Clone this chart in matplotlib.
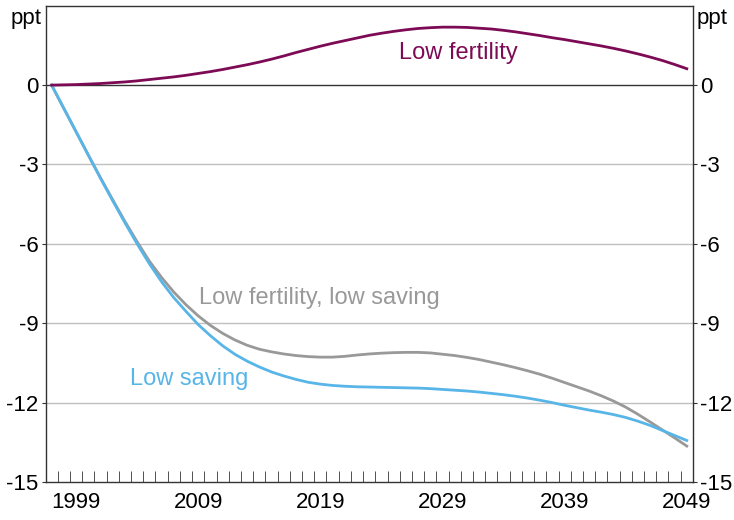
import numpy as np
import matplotlib
matplotlib.use("Agg")
import matplotlib.pyplot as plt
from matplotlib.ticker import FixedLocator

plt.rcParams['font.family'] = ['Liberation Sans', 'DejaVu Sans']

# annual data, plotted at mid-year
years = np.arange(1997, 2050)

lowFertility = [0.00, 0.01, 0.02, 0.04, 0.06, 0.09, 0.12, 0.16, 0.21, 0.26,
                0.31, 0.37, 0.44, 0.51, 0.59, 0.68, 0.77, 0.87, 0.98, 1.10,
                1.23, 1.35, 1.47, 1.58, 1.68, 1.78, 1.88, 1.96, 2.03, 2.09,
                2.14, 2.17, 2.19, 2.19, 2.18, 2.15, 2.12, 2.07, 2.01, 1.94,
                1.87, 1.79, 1.72, 1.64, 1.56, 1.48, 1.39, 1.29, 1.18, 1.06,
                0.93, 0.78, 0.62]

lowFertLowSaving = [0.00, -0.88, -1.76, -2.64, -3.50, -4.33, -5.15, -5.92, -6.65, -7.27,
                    -7.82, -8.30, -8.72, -9.08, -9.38, -9.63, -9.83, -9.98, -10.08, -10.16,
                    -10.22, -10.26, -10.28, -10.28, -10.25, -10.20, -10.16, -10.13, -10.11, -10.10,
                    -10.10, -10.12, -10.17, -10.22, -10.29, -10.37, -10.47, -10.57, -10.68, -10.80,
                    -10.93, -11.08, -11.24, -11.40, -11.56, -11.74, -11.94, -12.17, -12.44, -12.73,
                    -13.03, -13.33, -13.64]

lowSaving = [0.00, -0.88, -1.76, -2.64, -3.52, -4.37, -5.20, -6.00, -6.75, -7.43,
             -8.03, -8.55, -9.05, -9.47, -9.85, -10.17, -10.43, -10.65, -10.84, -10.99,
             -11.12, -11.23, -11.30, -11.35, -11.38, -11.40, -11.41, -11.42, -11.43, -11.44,
             -11.45, -11.47, -11.50, -11.53, -11.56, -11.60, -11.65, -11.70, -11.76, -11.83,
             -11.91, -12.00, -12.10, -12.19, -12.28, -12.36, -12.45, -12.56, -12.70, -12.86,
             -13.05, -13.24, -13.43]

yTicks = [0, -3, -6, -9, -12, -15]
xLabels = ['1999', '2009', '2019', '2029', '2039', '2049']

purple = '#7d0a55'
grey = '#999999'
blue = '#58b5e8'

fig = plt.figure(figsize=(7.34, 5.2), dpi=100)
ax = fig.add_axes([0.062, 0.073, 0.882, 0.916])

x = years + 0.5
for yv in yTicks[1:-1]:
    ax.axhline(yv, color='#c0c0c0', lw=1, zorder=1)
ax.axhline(0, color='#333333', lw=1, zorder=2)

ax.plot(x, lowFertLowSaving, color=grey, lw=2, zorder=3)
ax.plot(x, lowSaving, color=blue, lw=2, zorder=4)
ax.plot(x, lowFertility, color=purple, lw=2, zorder=5)

ax.text(2030.8, 1.22, 'Low fertility', color=purple, fontsize=17, ha='center', va='center')
ax.text(2019.4, -8.05, 'Low fertility, low saving', color=grey, fontsize=17, ha='center', va='center')
ax.text(2008.8, -11.1, 'Low saving', color=blue, fontsize=17, ha='center', va='center')

ax.set_xlim(1997, 2050)
ax.set_ylim(-15, 3)

ax.set_yticks(yTicks)
ax.set_yticklabels([str(v) for v in yTicks])
ax.tick_params(axis='y', which='both', direction='out', length=3, labelsize=16,
               left=True, right=True, labelleft=True, labelright=True, pad=2, color='#333333')

ax.set_xticks([int(s) + 0.5 for s in xLabels])
ax.set_xticklabels(xLabels)
ax.xaxis.set_minor_locator(FixedLocator(np.arange(1998, 2050)))
ax.tick_params(axis='x', which='major', length=0, labelsize=16, pad=7)
ax.tick_params(axis='x', which='minor', direction='in', length=8, color='#333333')

for s in ax.spines.values():
    s.set_color('#333333')
    s.set_linewidth(1)

fig.text(0.057, 0.965, 'ppt', fontsize=16, ha='right', va='center')
fig.text(0.949, 0.965, 'ppt', fontsize=16, ha='left', va='center')

fig.savefig('out.png', dpi=100)
